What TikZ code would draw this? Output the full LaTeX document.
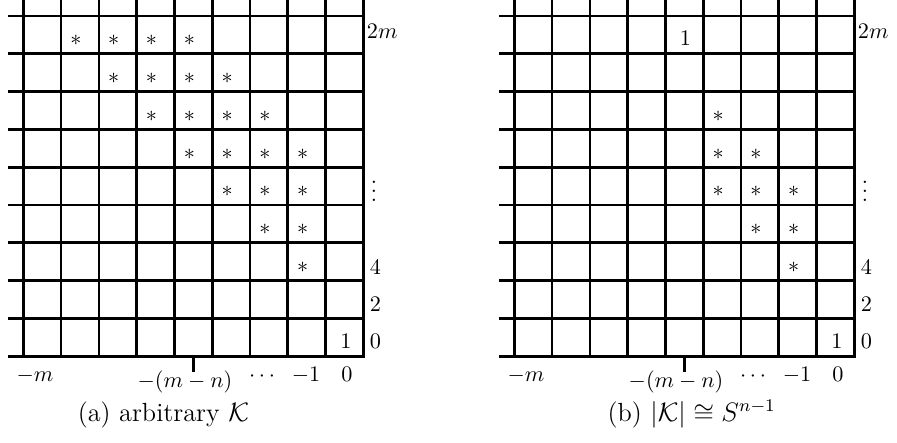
\documentclass[tikz,border=0pt]{standalone}
\begin{document}
\begin{tikzpicture}[x=0.45pt,y=-0.45pt,
  gridline/.style={line width=1.2pt},
  borderline/.style={line width=1.5pt},
  cell/.style={anchor=base,inner sep=0pt},
  rlab/.style={anchor=base west,inner sep=0pt},
  blab/.style={anchor=base,inner sep=0pt},
  capt/.style={anchor=base,inner sep=0pt,font=\fontsize{11.8}{14}\selectfont}]
\useasboundingbox (0,0) rectangle (897,443);

\foreach \dx/\g in {0/a,491/b}{
 \begin{scope}[shift={(\dx,0)}]
  % vertical grid lines
  \foreach \i in {0,...,8}{
    \draw[gridline] ({23.3+37.78*\i},0) -- ({23.3+37.78*\i},356.2);
  }
  % horizontal grid lines
  \foreach \j in {0,...,8}{
    \draw[gridline] (8,{16+37.8*\j}) -- (363.3,{16+37.8*\j});
  }
  % border (right and bottom)
  \draw[borderline] (363.3,0) -- (363.3,356.2) -- (8,356.2);
  % tick
  \draw[borderline] (193.3,356.2) -- (193.3,371.7);
  % bottom-right cell entry
  \node[cell] (\g-one) at ({23.3+37.78*8.5+1.5},348.2) {$1$};
  % right labels
  \node[rlab] (\g-l2m) at (366.5,38.5) {$2m$};
  \node[inner sep=0pt] (\g-ldots) at (374,185) {$\vdots$};
  \node[rlab] (\g-l4) at (369.5,275) {$4$};
  \node[rlab] (\g-l2) at (369.5,311.7) {$2$};
  \node[rlab] (\g-l0) at (369.5,349) {$0$};
  % bottom labels
  \node[blab] (\g-bm) at (35,382) {$-m$};
  \node[blab] (\g-bmn) at (185,388) {$-(m-n)$};
  \node[blab] (\g-bdots) at (262,382) {$\cdots$};
  \node[blab] (\g-bm1) at (306,382) {$-1$};
  \node[blab] (\g-b0) at (347,382) {$0$};
 \end{scope}
}

% asterisks, grid (a)
\foreach \r/\c in {0/1,0/2,0/3,0/4,1/2,1/3,1/4,1/5,2/3,2/4,2/5,2/6,3/4,3/5,3/6,3/7,4/5,4/6,4/7,5/6,5/7,6/7}{
  \node[cell] (a-s\r\c) at ({23.3+37.78*(\c+0.5)-4},{16+37.8*(\r+1)-8}) {$*$};
}
% asterisks, grid (b)
\foreach \r/\c in {2/5,3/5,3/6,4/5,4/6,4/7,5/6,5/7,6/7}{
  \node[cell] (b-s\r\c) at ({491+23.3+37.78*(\c+0.5)-4},{16+37.8*(\r+1)-8}) {$*$};
}
\node[cell] (b-top) at ({491+23.3+37.78*4.5+1},{16+37.8-8}) {$1$};

% captions
\node[capt] (capa) at (163.4,421.5) {(a) arbitrary $\mathcal{K}$};
\node[capt] (capb) at (691.7,421.5) {(b) $|\mathcal{K}|\cong S^{n-1}$};
\end{tikzpicture}
\end{document}
